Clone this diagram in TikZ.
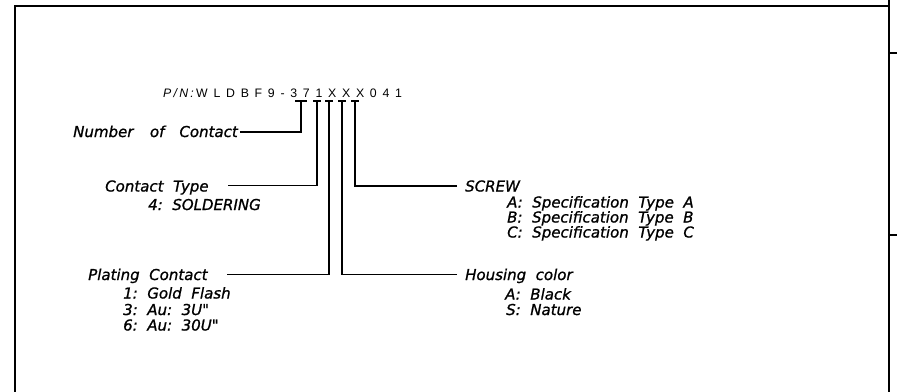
\documentclass[tikz,border=0pt]{standalone}
\usepackage{fontspec}
\newfontfamily\lblfont[FakeBold=1]{DejaVu Sans}
\newfontfamily\pnfont[LetterSpace=46.7]{Liberation Sans}
\newfontfamily\pnifont[LetterSpace=18]{Liberation Sans}
\begin{document}
\begin{tikzpicture}[x=1pt,y=-1pt,
  frame/.style={line width=2pt, line cap=rect},
  conn/.style={line width=1.5pt},
  lbl/.style={inner sep=0pt, anchor=base west, font=\lblfont\itshape\fontsize{15}{17}\selectfont},
  pn/.style={inner sep=0pt, anchor=base west, font=\fontsize{12.3}{14}\selectfont}]
\useasboundingbox (0,0) rectangle (897,391);
% frame
\draw[frame] (15,392) -- (15,5.5) -- (889,5.5);
\draw[frame] (889,-1) -- (889,392);
\draw[frame] (889,53) -- (898,53);
\draw[frame] (889,235) -- (898,235);
% part number
\node[pn] (pnl) at (163,97) {\pnifont\itshape P/N:};
\node[pn] (pnc) at (196,97) {\pnfont WLDBF9-371XXX041};
% tick points
\coordinate (t37) at (301,101);
\coordinate (t1) at (317,101);
\coordinate (tx1) at (329,101);
\coordinate (tx2) at (342,101);
\coordinate (tx3) at (355,101);
\draw[conn] (295,101) -- (307,101);
\foreach \c in {t1,tx1,tx2,tx3} \draw[conn] ([xshift=-4pt]\c) -- ([xshift=4pt]\c);
% labels
\node[lbl, anchor=base east] (numc) at (238,137) {Number\hspace{1.1em}of\hspace{1em}Contact};
\node[lbl] (ctype) at (105,191.5) {Contact\ \ Type};
\node[lbl] (ctype4) at (148,210) {4:\ \ SOLDERING};
\node[lbl] (screw) at (465,191.5) {SCREW};
\node[lbl] (screwa) at (507,207.5) {A:\ \ Specification\ \ Type\ \ A};
\node[lbl] (screwb) at (507,222.5) {B:\ \ Specification\ \ Type\ \ B};
\node[lbl] (screwc) at (507,237.5) {C:\ \ Specification\ \ Type\ \ C};
\node[lbl] (plat) at (88,280) {Plating\ \ Contact};
\node[lbl] (plat1) at (123,298.5) {1:\ \ Gold\ \ Flash};
\node[lbl] (plat3) at (123,315) {3:\ \ Au:\ \ 3U"};
\node[lbl] (plat6) at (123,330.5) {6:\ \ Au:\ \ 30U"};
\node[lbl] (hous) at (465,280) {Housing\ \ color};
\node[lbl] (housa) at (505,299.5) {A:\ \ Black};
\node[lbl] (houss) at (506,315) {S:\ \ Nature};
% connectors
\coordinate (nc) at (240,132);
\coordinate (ctl) at (228,185.5);
\coordinate (pcl) at (227,274.3);
\coordinate (hcl) at (457,274.3);
\coordinate (scl) at (457,186);
\draw[conn] (nc) -| (t37);
\draw[conn] (ctl) -| (t1);
\draw[conn] (pcl) -| (tx1);
\draw[conn] (hcl) -| (tx2);
\draw[conn] (scl) -| (tx3);
\end{tikzpicture}
\end{document}
